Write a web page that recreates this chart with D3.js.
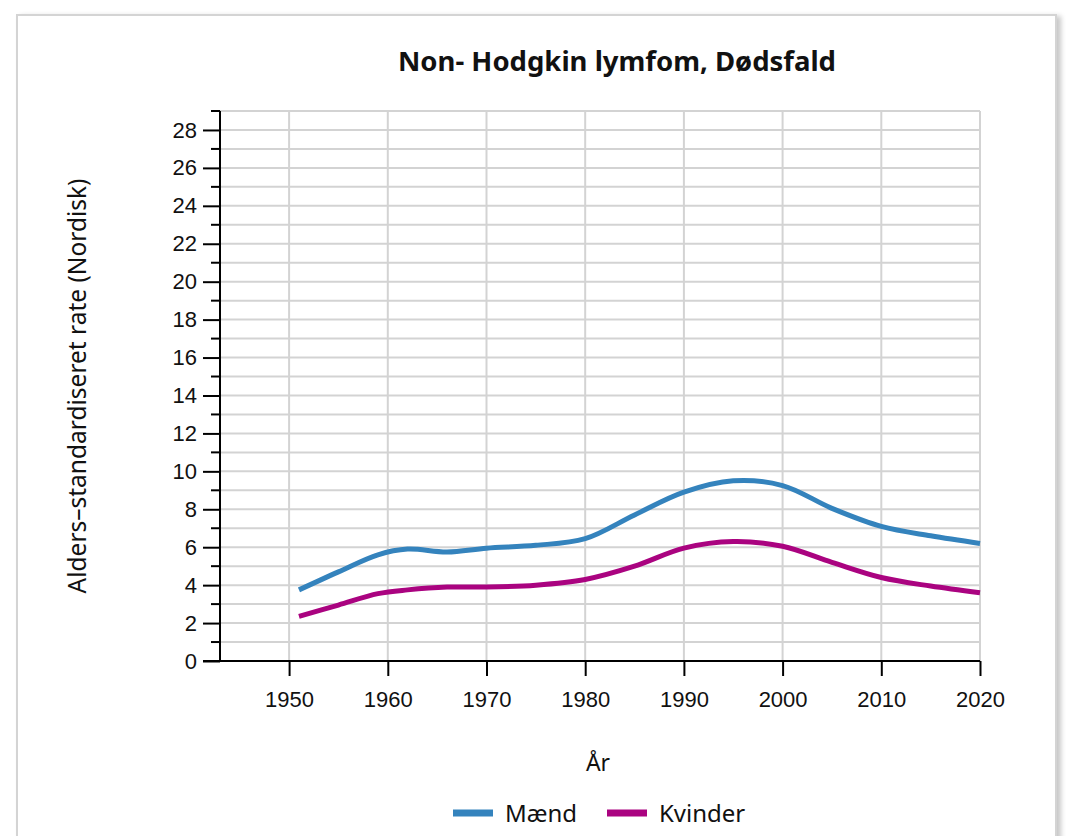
<!DOCTYPE html>
<html>
<head>
<meta charset="utf-8">
<script src="https://cdn.jsdelivr.net/npm/d3@7"></script>
<style>
  html, body { margin: 0; padding: 0; background: #fff; width: 1074px; height: 836px; overflow: hidden; }
  #card { position: absolute; left: 16px; top: 14px; width: 1037px; height: 900px;
          border: 2px solid #d4d4d4; box-shadow: 4px 2px 5px rgba(0,0,0,0.22); background: #fff; }
  svg { position: absolute; left: 0; top: 0; }
</style>
</head>
<body>
<div id="card"></div>
<svg id="chart" width="1074" height="836"></svg>
<script>
const title = "Non- Hodgkin lymfom, Dødsfald";
const yLabel = "Alders–standardiseret rate (Nordisk)";
const xLabel = "År";
const seriesNames = ["Mænd", "Kvinder"];
const seriesColors = ["#3483bd", "#aa0380"];
const years = [1951, 1955, 1959, 1962, 1966, 1970, 1975, 1980, 1985, 1990, 1995, 2000, 2005, 2010, 2015, 2020];
const maend   = [3.75, 4.7, 5.6, 5.9, 5.75, 5.95, 6.1, 6.45, 7.7, 8.9, 9.5, 9.25, 8.05, 7.1, 6.6, 6.2];
const kvinder = [2.35, 2.95, 3.55, 3.75, 3.9, 3.9, 4.0, 4.3, 5.0, 5.95, 6.3, 6.05, 5.2, 4.4, 3.95, 3.6];
const xTicks = [1950, 1960, 1970, 1980, 1990, 2000, 2010, 2020];
const yTicksMajor = [0, 2, 4, 6, 8, 10, 12, 14, 16, 18, 20, 22, 24, 26, 28];
const yTicksMinor = [1, 3, 5, 7, 9, 11, 13, 15, 17, 19, 21, 23, 25, 27, 29];
const gridY = d3.range(0, 30, 1);

const svg = d3.select("#chart");
const x = d3.scaleLinear().domain([1943, 2020]).range([220, 980]);
const y = d3.scaleLinear().domain([0, 29]).range([661, 111]);

// grid
const grid = svg.append("g").attr("stroke", "#d3d3d3").attr("stroke-width", 2);
grid.selectAll("line.h").data(gridY).join("line")
  .attr("x1", x(1943)).attr("x2", x(2020))
  .attr("y1", d => y(d)).attr("y2", d => y(d));
grid.selectAll("line.v").data(xTicks).join("line")
  .attr("x1", d => x(d)).attr("x2", d => x(d))
  .attr("y1", y(29)).attr("y2", y(0));

// lines
const line = d3.line().x((d, i) => x(years[i])).y(d => y(d)).curve(d3.curveCatmullRom.alpha(0.5));
[maend, kvinder].forEach((s, k) => {
  svg.append("path").attr("d", line(s)).attr("fill", "none")
    .attr("stroke", seriesColors[k]).attr("stroke-width", 5).attr("stroke-linecap", "butt");
});

// y axis
const yAxis = svg.append("g").attr("transform", `translate(${x(1943)},0)`)
  .call(d3.axisLeft(y).tickValues(yTicksMajor).tickSize(17).tickPadding(6).tickSizeOuter(0));
yAxis.select(".domain").attr("stroke-width", 2).attr("d", `M0,${y(29)}V${y(0)}`);
yAxis.selectAll(".tick line").attr("stroke-width", 2);
yAxis.selectAll(".tick text").attr("font-family", "Liberation Sans, Arial, sans-serif").attr("font-size", 22).attr("fill", "#111");
yAxis.append("g").selectAll("line").data(yTicksMinor).join("line")
  .attr("x1", -9).attr("x2", 0).attr("y1", d => y(d)).attr("y2", d => y(d))
  .attr("stroke", "#000").attr("stroke-width", 2);

// x axis
const xAxis = svg.append("g").attr("transform", `translate(0,${y(0)})`)
  .call(d3.axisBottom(x).tickValues(xTicks).tickSize(15).tickPadding(15).tickFormat(d3.format("d")).tickSizeOuter(0));
xAxis.select(".domain").attr("stroke-width", 2).attr("d", `M203,0H${x(2020)}`);
xAxis.selectAll(".tick line").attr("stroke-width", 2);
xAxis.selectAll(".tick text").attr("font-family", "Liberation Sans, Arial, sans-serif").attr("font-size", 22).attr("fill", "#111");

// title
svg.append("text").attr("x", 617).attr("y", 71).attr("text-anchor", "middle")
  .attr("font-family", "Noto Sans, sans-serif").attr("font-weight", "bold").attr("font-size", 27.5)
  .attr("fill", "#111").text(title);

// axis labels
svg.append("text").attr("transform", `translate(86,386) rotate(-90)`).attr("text-anchor", "middle")
  .attr("font-family", "Noto Sans, sans-serif").attr("font-size", 24.5).attr("fill", "#111").text(yLabel);
svg.append("text").attr("x", 598).attr("y", 771).attr("text-anchor", "middle")
  .attr("font-family", "Noto Sans, sans-serif").attr("font-size", 23).attr("fill", "#111").text(xLabel);

// legend
const legend = svg.append("g");
const legX = [453, 607];
seriesNames.forEach((n, k) => {
  legend.append("line").attr("x1", legX[k]).attr("x2", legX[k] + 40).attr("y1", 813).attr("y2", 813)
    .attr("stroke", seriesColors[k]).attr("stroke-width", 7);
  legend.append("text").attr("x", legX[k] + 52).attr("y", 822)
    .attr("font-family", "Noto Sans, sans-serif").attr("font-size", 24).attr("fill", "#111").text(n);
});
</script>
</body>
</html>
